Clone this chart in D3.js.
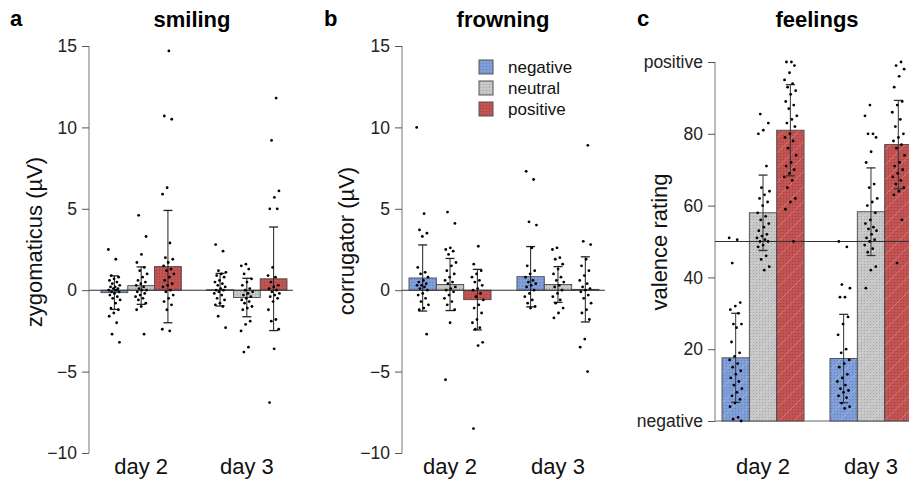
<!DOCTYPE html>
<html>
<head>
<meta charset="utf-8">
<script src="https://cdn.jsdelivr.net/npm/d3@7"></script>
<style>
  body { margin: 0; background: #fff; }
  svg { display: block; font-family: "Liberation Sans", Arial, sans-serif; }
</style>
</head>
<body>
<div id="chart"></div>
<script>
// ---- data ----
var days = ["day 2", "day 3"];
var conditions = ["negative", "neutral", "positive"];

// smiling (zygomaticus, µV): means and SD per day, order neg / neu / pos
var smilingMeans = [[-0.15, 0.28, 1.45], [0.03, -0.45, 0.7]];
var smilingSD = [[1.03, 1.15, 3.45], [1.0, 1.18, 3.18]];
var smilingDay2 = [
  [2.5, 1.9, 0.9, 0.8, 0.7, 0.6, 0.5, 0.4, 0.3, 0.2, 0.2, 0.1, 0.1, 0.0, 0.0, -0.1, -0.1, -0.2, -0.3, -0.4, -0.5, -0.6, -0.8, -1.1, -1.2, -1.4, -1.6, -2.0, -2.7, -3.2],
  [4.6, 3.3, 2.2, 1.7, 1.4, 1.2, 1.0, 0.8, 0.6, 0.5, 0.4, 0.3, 0.2, 0.1, 0.0, 0.0, -0.1, -0.2, -0.3, -0.4, -0.5, -0.6, -0.8, -1.0, -1.2, -2.7],
  [14.7, 10.7, 10.5, 6.3, 5.9, 2.9, 2.0, 1.9, 1.7, 1.5, 1.3, 1.2, 1.0, 0.8, 0.6, 0.4, 0.3, 0.2, 0.0, -0.1, -0.3, -0.5, -0.7, -0.9, -1.2, -2.4, -2.5]
];
var smilingDay3 = [
  [2.8, 2.4, 1.2, 1.1, 1.0, 0.9, 0.8, 0.6, 0.5, 0.4, 0.3, 0.2, 0.1, 0.0, 0.0, -0.1, -0.2, -0.3, -0.5, -0.6, -0.8, -0.9, -1.0, -1.6, -2.3],
  [1.6, 1.5, 1.3, 1.0, 0.7, 0.5, 0.3, 0.1, 0.0, -0.1, -0.2, -0.3, -0.4, -0.5, -0.6, -0.7, -0.8, -1.0, -1.1, -1.2, -1.9, -2.1, -2.5, -3.5, -3.8],
  [11.8, 9.2, 6.1, 5.7, 5.0, 5.0, 1.4, 0.9, 0.8, 0.5, 0.3, 0.2, 0.1, 0.0, -0.1, -0.2, -0.3, -0.4, -0.5, -0.7, -1.2, -1.8, -1.9, -2.4, -3.6, -6.9]
];

// frowning (corrugator, µV)
var frowningMeans = [[0.75, 0.35, -0.58], [0.83, 0.35, 0.05]];
var frowningSD = [[2.03, 1.6, 1.86], [1.85, 1.1, 2.0]];
var frowningDay2 = [
  [10.0, 4.7, 3.7, 3.5, 3.3, 1.4, 1.1, 1.0, 0.8, 0.6, 0.5, 0.4, 0.3, 0.3, 0.2, 0.1, 0.0, -0.2, -0.3, -0.5, -0.7, -0.9, -1.1, -1.2, -2.7],
  [4.8, 4.1, 2.6, 2.5, 2.4, 2.2, 1.7, 1.5, 1.2, 1.0, 0.8, 0.6, 0.5, 0.4, 0.2, 0.1, 0.0, -0.1, -0.3, -0.5, -0.7, -0.9, -1.2, -2.0, -5.5],
  [2.7, 1.6, 1.2, 1.0, 0.8, 0.6, 0.5, 0.3, 0.1, 0.0, -0.2, -0.4, -0.6, -0.9, -1.1, -1.4, -1.8, -2.0, -2.3, -2.4, -3.2, -3.4, -8.5]
];
var frowningDay3 = [
  [7.3, 6.8, 4.2, 4.0, 2.6, 1.5, 1.2, 1.0, 0.8, 0.6, 0.5, 0.4, 0.3, 0.2, 0.0, -0.2, -0.4, -0.6, -0.8, -1.0, -1.1],
  [2.6, 2.5, 2.0, 1.9, 1.6, 1.3, 1.0, 0.8, 0.6, 0.5, 0.3, 0.2, 0.0, -0.2, -0.4, -0.6, -0.8, -1.1, -1.4, -1.7],
  [8.9, 3.0, 2.8, 1.9, 1.5, 1.2, 0.9, 0.6, 0.4, 0.2, 0.1, 0.0, -0.1, -0.3, -0.5, -0.8, -1.2, -1.4, -1.8, -3.0, -3.5, -5.0]
];

// feelings (valence rating 0-100)
var feelingsMeans = [[17.6, 58, 81], [17.4, 58.3, 77]];
var feelingsSD = [[12.4, 10.5, 12.7], [12.3, 12.2, 12.3]];
var feelingsDay2 = [
  [51, 50.5, 44, 33, 32, 31, 30, 27, 27, 26, 22, 19, 18, 17, 16, 15, 14, 13, 12, 11, 10, 9, 8, 7, 6, 5, 4, 1, 0.5, 0],
  [85.5, 83, 81, 80, 71, 65, 64, 63, 62, 61, 60, 58, 57, 56, 55, 54, 53, 52, 51.5, 51, 50.5, 50, 50, 49, 48.5, 46, 45, 43, 42],
  [100, 100, 99, 97, 95, 94, 93, 92, 91, 89, 88, 87, 85, 84, 83, 82, 80, 79, 78, 76, 74, 72, 71, 70, 69, 68, 67, 65, 62, 61, 59, 50]
];
var feelingsDay3 = [
  [50, 48.5, 38, 37, 34.5, 34.5, 29, 27, 24, 20, 19, 17, 16, 15, 13, 12, 11, 10, 9, 8.5, 8, 7, 6.5, 5, 4, 3.5],
  [88, 85, 80, 80, 79, 75, 72, 66, 65, 62, 61, 60, 58, 56, 55, 54, 53.5, 53, 52, 51, 50.5, 50, 49, 48, 47, 43, 42, 37],
  [100, 99, 98, 96, 93, 89, 88, 86, 84, 82, 80, 79, 78, 77, 76, 74, 72, 71, 70, 69, 68, 67, 66, 65, 64, 63, 56, 44]
];

var emgTicks = [-10, -5, 0, 5, 10, 15];
var valenceTicks = [0, 20, 40, 60, 80, 100];
var valenceTickLabels = ["negative", "20", "40", "60", "80", "positive"];

// ---- drawing ----
var width = 909, height = 481;
var colors = {negative: "#7c9cda", neutral: "#c6c6c6", positive: "#c25050"};

var svg = d3.select("#chart").append("svg")
  .attr("width", width)
  .attr("height", height);

var defs = svg.append("defs");

// fine dotted texture for every bar, plus faint diagonal stripes for panel c
conditions.forEach(function(c) {
  var dots = defs.append("pattern")
    .attr("id", "dots-" + c)
    .attr("patternUnits", "userSpaceOnUse")
    .attr("width", 3).attr("height", 3);
  dots.append("rect").attr("width", 3).attr("height", 3).attr("fill", colors[c]);
  dots.append("rect").attr("x", 0).attr("y", 0).attr("width", 1).attr("height", 1)
    .attr("fill", "#000").attr("opacity", 0.16);
  dots.append("rect").attr("x", 1.5).attr("y", 1.5).attr("width", 1).attr("height", 1)
    .attr("fill", "#fff").attr("opacity", 0.1);

  var stripes = defs.append("pattern")
    .attr("id", "stripes-" + c)
    .attr("patternUnits", "userSpaceOnUse")
    .attr("width", 15).attr("height", 15);
  stripes.append("rect").attr("width", 15).attr("height", 15).attr("fill", "url(#dots-" + c + ")");
  stripes.append("path")
    .attr("d", "M-2,17 L17,-2 M-2,2 L2,-2 M13,17 L17,13")
    .attr("stroke", "#fff").attr("stroke-width", 0.8).attr("opacity", 0.28);
});

function frac(v) { return v - Math.floor(v); }

function drawPanel(cfg) {
  var g = svg.append("g");

  var y = d3.scaleLinear().domain(cfg.domain).range(cfg.yRange);
  var x = d3.scaleBand().domain(days).range(cfg.barRange).paddingInner(0.24).paddingOuter(0);
  var xc = d3.scaleBand().domain(conditions).range([0, x.bandwidth()]);

  // letter + title
  g.append("text").attr("x", cfg.letterX).attr("y", 26)
    .attr("font-size", 22).attr("font-weight", "bold").text(cfg.letter);
  g.append("text").attr("x", cfg.titleX).attr("y", 27)
    .attr("text-anchor", "middle").attr("font-size", 22).attr("font-weight", "bold")
    .text(cfg.title);

  // y axis
  var axis = d3.axisLeft(y).tickValues(cfg.ticks).tickSize(7).tickPadding(5)
    .tickFormat(cfg.tickFormat);
  var ax = g.append("g").attr("transform", "translate(" + cfg.axisX + ",0)").call(axis);
  ax.select(".domain").attr("stroke", "#777").attr("d", "M0," + y.range()[0] + "V" + y.range()[1]);
  ax.selectAll(".tick line").attr("stroke", "#555");
  ax.selectAll(".tick text")
    .attr("font-family", "Liberation Sans, Arial, sans-serif")
    .attr("font-size", 17.5)
    .attr("fill", "#222");

  // y label
  g.append("text")
    .attr("transform", "translate(" + cfg.labelX + "," + cfg.labelY + ") rotate(-90)")
    .attr("text-anchor", "middle").attr("font-size", 22).attr("fill", "#111")
    .text(cfg.ylabel);

  // x labels
  g.selectAll(".daylabel").data(days).enter().append("text")
    .attr("x", function(d) { return x(d) + x.bandwidth() / 2; })
    .attr("y", 474).attr("text-anchor", "middle").attr("font-size", 22).attr("fill", "#111")
    .text(function(d) { return d; });

  // bottom line for panel c
  if (cfg.bottomLine) {
    g.append("line").attr("x1", cfg.axisX).attr("x2", width)
      .attr("y1", y(cfg.domain[0])).attr("y2", y(cfg.domain[0]))
      .attr("stroke", "#999").attr("stroke-width", 1.5);
  }

  var base = cfg.barBase;
  days.forEach(function(day, di) {
    var gx = x(day);
    conditions.forEach(function(c, ci) {
      var m = cfg.means[di][ci];
      var x0 = gx + xc(c), bw = xc.bandwidth();
      var top = Math.min(y(m), y(base)), h = Math.abs(y(m) - y(base));
      g.append("rect")
        .attr("x", x0).attr("y", top).attr("width", bw).attr("height", Math.max(h, 0.8))
        .attr("fill", "url(#" + cfg.texture + "-" + c + ")")
        .attr("stroke", "#4a4a4a").attr("stroke-width", 0.9);
    });
  });

  // reference line (0 or 50)
  g.append("line").attr("x1", cfg.axisX).attr("x2", cfg.refEnd)
    .attr("y1", y(cfg.refValue)).attr("y2", y(cfg.refValue))
    .attr("stroke", "#333").attr("stroke-width", 1.1);

  days.forEach(function(day, di) {
    var gx = x(day);
    conditions.forEach(function(c, ci) {
      var m = cfg.means[di][ci], sd = cfg.sds[di][ci];
      var cx = gx + xc(c) + xc.bandwidth() / 2;
      // error bar
      var eb = g.append("g").attr("stroke", cfg.errColor).attr("stroke-width", 1);
      eb.append("line").attr("x1", cx).attr("x2", cx).attr("y1", y(m - sd)).attr("y2", y(m + sd));
      [m - sd, m + sd].forEach(function(v) {
        eb.append("line").attr("x1", cx - 4.5).attr("x2", cx + 4.5).attr("y1", y(v)).attr("y2", y(v))
          .attr("stroke-width", 1.3);
      });
      // individual points, spread around the bar centre
      var pts = cfg.points[di][ci];
      g.selectAll(null).data(pts).enter().append("circle")
        .attr("cx", function(d, i) { return cx + (frac(i * 0.618034 + ci * 0.29 + di * 0.13) - 0.5) * cfg.spread; })
        .attr("cy", function(d) { return y(d); })
        .attr("r", 1.4)
        .attr("fill", "#000");
    });
  });
}

drawPanel({
  letter: "a", letterX: 10, title: "smiling", titleX: 192,
  ylabel: "zygomaticus (\u00b5V)", labelX: 42, labelY: 242,
  domain: [-10, 15], yRange: [453, 46], ticks: emgTicks, tickFormat: d3.format("d"),
  axisX: 89, barRange: [101, 287], refValue: 0, refEnd: 293, barBase: 0,
  means: smilingMeans, sds: smilingSD, points: [smilingDay2, smilingDay3],
  texture: "dots", errColor: "#222", spread: 12
});

drawPanel({
  letter: "b", letterX: 324, title: "frowning", titleX: 503,
  ylabel: "corrugator (\u00b5V)", labelX: 354, labelY: 241,
  domain: [-10, 15], yRange: [453, 46], ticks: emgTicks, tickFormat: d3.format("d"),
  axisX: 402, barRange: [409, 599], refValue: 0, refEnd: 605, barBase: 0,
  means: frowningMeans, sds: frowningSD, points: [frowningDay2, frowningDay3],
  texture: "dots", errColor: "#222", spread: 12
});

drawPanel({
  letter: "c", letterX: 637, title: "feelings", titleX: 817,
  ylabel: "valence rating", labelX: 667, labelY: 242,
  domain: [0, 100], yRange: [421, 62], ticks: valenceTicks,
  tickFormat: function(d, i) { return valenceTickLabels[i]; },
  axisX: 715, barRange: [722, 912], refValue: 50, refEnd: width, barBase: 0,
  means: feelingsMeans, sds: feelingsSD, points: [feelingsDay2, feelingsDay3],
  texture: "stripes", errColor: "#333", spread: 13, bottomLine: true
});

// legend (panel b)
var legend = svg.append("g");
conditions.forEach(function(c, i) {
  var cy = 67 + i * 21;
  legend.append("rect").attr("x", 479).attr("y", cy - 7).attr("width", 14).attr("height", 14)
    .attr("fill", "url(#dots-" + c + ")").attr("stroke", "#555").attr("stroke-width", 1);
  legend.append("text").attr("x", 508).attr("y", cy + 6)
    .attr("font-size", 17).attr("fill", "#111").text(c);
});
</script>
</body>
</html>
